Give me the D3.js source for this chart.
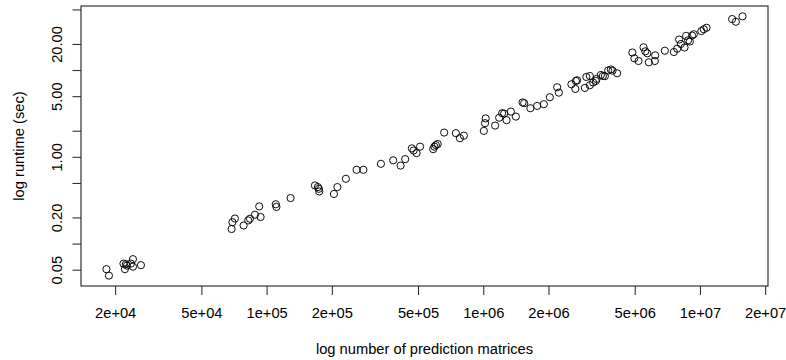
<!DOCTYPE html>
<html>
<head>
<meta charset="utf-8">
<script src="https://cdn.jsdelivr.net/npm/d3@7"></script>
<style>
  html, body { margin: 0; padding: 0; background: #fff; }
  svg { display: block; }
  text { font-family: "Liberation Sans", Arial, Helvetica, sans-serif; fill: #000; }
</style>
</head>
<body>
<svg id="chart" width="786" height="360"></svg>
<script>
// Number of prediction matrices per run
const matrices = [
  18230, 18720, 21840, 22420, 22180, 22660, 24160, 24160, 26300, 23640,
  68930, 69530, 71390, 78320, 82270, 83760, 88320, 92450, 93820, 110200,
  111000, 129000, 167100, 172500, 174300, 174900, 204500, 212200, 232200, 260200,
  279700, 337000, 383900, 415400, 436100, 468200, 476800, 492200, 510900, 587300,
  594800, 604400, 616100, 660000, 747400, 779900, 813800, 1006000, 1019000, 1026000,
  1134000, 1184000, 1222000, 1248000, 1281000, 1341000, 1414000, 1519000, 1545000, 1650000,
  1773000, 1904000, 2029000, 2193000, 2233000, 2551000, 2661000, 2675000, 2712000, 2944000,
  2991000, 3104000, 3104000, 3215000, 3308000, 3333000, 3489000, 3564000, 3640000, 3770000,
  3879000, 3950000, 4148000, 4876000, 4981000, 5208000, 5491000, 5597000, 5718000, 5810000,
  6214000, 6194000, 6887000, 7579000, 7850000, 8017000, 8164000, 8490000, 8635000, 8821000,
  8982000, 9204000, 9371000, 10150000, 10420000, 10730000, 14080000, 14650000, 15730000
];

// Runtime in seconds for each run
const runtime = [
  0.0507, 0.0427, 0.0587, 0.0579, 0.0507, 0.0557, 0.0661, 0.0542, 0.0564, 0.0587,
  0.1472, 0.1763, 0.1944, 0.1616, 0.1849, 0.1934, 0.2151, 0.2680, 0.2023, 0.2840,
  0.2644, 0.3347, 0.4675, 0.4481, 0.4282, 0.3988, 0.3731, 0.4481, 0.5580, 0.7087,
  0.7087, 0.8307, 0.9115, 0.7921, 0.9409, 1.252, 1.182, 1.103, 1.310, 1.226,
  1.310, 1.364, 1.404, 1.904, 1.874, 1.641, 1.754, 1.991, 2.442, 2.773,
  2.292, 2.825, 3.184, 3.150, 2.645, 3.322, 2.909, 4.238, 4.150, 3.635,
  3.863, 4.041, 4.864, 6.341, 5.495, 6.864, 6.061, 7.490, 7.630, 6.223,
  8.330, 8.553, 6.684, 7.199, 7.490, 7.900, 8.783, 8.553, 8.508, 9.894,
  10.16, 9.842, 9.188, 15.94, 13.67, 12.73, 18.30, 16.46, 15.61, 12.30,
  14.80, 12.73, 16.72, 16.15, 17.63, 22.50, 19.97, 18.20, 24.81, 22.03,
  21.34, 25.01, 25.88, 28.18, 29.56, 30.76, 38.73, 36.06, 41.60
];

// Axis ticks and their labels (blank label = tick only)
const xTicks = [2e4, 5e4, 1e5, 2e5, 5e5, 1e6, 2e6, 5e6, 1e7, 2e7];
const xTickLabels = ["2e+04", "5e+04", "1e+05", "2e+05", "5e+05", "1e+06", "2e+06", "5e+06", "1e+07", "2e+07"];
const yTicks = [0.05, 0.1, 0.2, 0.5, 1, 2, 5, 10, 20, 50];
const yTickLabels = ["0.05", "", "0.20", "", "1.00", "", "5.00", "", "20.00", ""];

const xTitle = "log number of prediction matrices";
const yTitle = "log runtime (sec)";

const points = matrices.map((m, i) => ({ x: m, y: runtime[i] }));

const FONT = 14.7;
const svg = d3.select("#chart");
const margin = { left: 81, right: 18, top: 6, bottom: 74 };
const W = +svg.attr("width"), H = +svg.attr("height");
const innerW = W - margin.left - margin.right;
const innerH = H - margin.top - margin.bottom;

// Log-space extent padded by 4% on each side
function paddedLogDomain(vals) {
  const lo = Math.log10(d3.min(vals)), hi = Math.log10(d3.max(vals));
  const pad = (hi - lo) * 0.04;
  return [Math.pow(10, lo - pad), Math.pow(10, hi + pad)];
}

const x = d3.scaleLog().domain(paddedLogDomain(matrices)).range([0, innerW]);
const y = d3.scaleLog().domain(paddedLogDomain(runtime)).range([innerH, 0]);

const g = svg.append("g").attr("transform", `translate(${margin.left},${margin.top})`);

// X axis
const xAxis = d3.axisBottom(x)
  .tickValues(xTicks)
  .tickFormat((d, i) => xTickLabels[i])
  .tickSize(9);
const gx = g.append("g").attr("transform", `translate(0,${innerH})`).call(xAxis);
gx.select(".domain").remove();
gx.selectAll(".tick line").attr("stroke", "#222").attr("stroke-width", 1);
gx.selectAll(".tick text")
  .attr("font-size", FONT)
  .attr("font-family", "Liberation Sans, Arial, sans-serif")
  .attr("fill", "#000")
  .attr("dy", null)
  .attr("y", 32);

// Y axis
const yAxis = d3.axisLeft(y)
  .tickValues(yTicks)
  .tickFormat((d, i) => yTickLabels[i])
  .tickSize(8.5);
const gy = g.append("g").call(yAxis);
gy.select(".domain").remove();
gy.selectAll(".tick line").attr("stroke", "#222").attr("stroke-width", 1);
gy.selectAll(".tick text")
  .attr("font-size", FONT)
  .attr("font-family", "Liberation Sans, Arial, sans-serif")
  .attr("fill", "#000")
  .attr("x", null)
  .attr("dy", null)
  .attr("text-anchor", "middle")
  .attr("transform", "translate(-19,0) rotate(-90)");

// Plot frame
g.append("rect")
  .attr("x", 0).attr("y", 0)
  .attr("width", innerW).attr("height", innerH)
  .attr("fill", "none")
  .attr("stroke", "#222")
  .attr("stroke-width", 1.1);

// Points
g.append("g")
  .selectAll("circle")
  .data(points)
  .join("circle")
  .attr("cx", d => x(d.x))
  .attr("cy", d => y(d.y))
  .attr("r", 3.6)
  .attr("fill", "none")
  .attr("stroke", "#000")
  .attr("stroke-width", 0.95);

// Axis titles
svg.append("text")
  .attr("x", margin.left + innerW / 2)
  .attr("y", 353.5)
  .attr("text-anchor", "middle")
  .attr("font-size", FONT)
  .text(xTitle);

svg.append("text")
  .attr("transform", `translate(24,${margin.top + innerH / 2}) rotate(-90)`)
  .attr("text-anchor", "middle")
  .attr("font-size", FONT)
  .text(yTitle);
</script>
</body>
</html>
